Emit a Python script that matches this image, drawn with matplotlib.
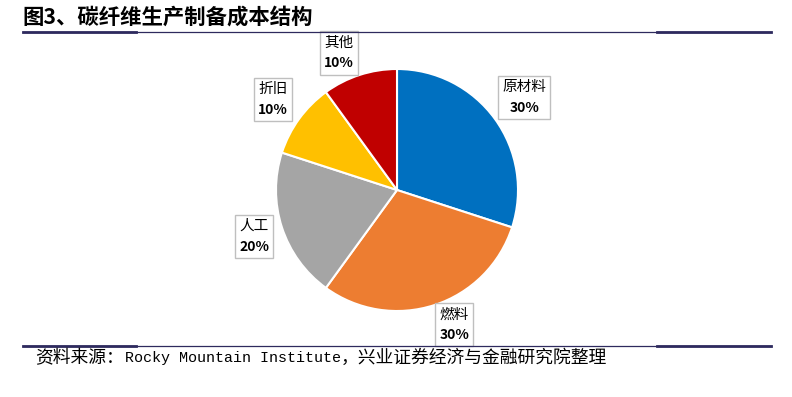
import numpy as np
import matplotlib
matplotlib.use("Agg")
from matplotlib import pyplot as plt
from matplotlib.offsetbox import TextArea, VPacker, AnnotationBbox

plt.rcParams['font.family'] = ['Noto Sans CJK SC', 'DejaVu Sans']

# data
categories = ['原材料', '燃料', '人工', '折旧', '其他']
shares = [30, 30, 20, 10, 10]
colors = ['#0070C0', '#ED7D31', '#A5A5A5', '#FFC000', '#C00000']
label_dist = [1.30, 1.21, 1.24, 1.27, 1.23]
label_shift = [0, 5, 0, 0, 5]   # degrees

W, H = 792, 397
fig = plt.figure(figsize=(W / 100, H / 100), dpi=100)

# pie axes: center (397,190) px, radius 121 px
cx, cy, r = 397, 190, 121
ax = fig.add_axes([(cx - r) / W, (H - cy - r) / H, 2 * r / W, 2 * r / H])
wedges, _ = ax.pie(shares, colors=colors, startangle=90, counterclock=False,
                   radius=1, wedgeprops=dict(edgecolor='white', linewidth=1.5))
ax.set_xlim(-1, 1)
ax.set_ylim(-1, 1)
ax.set_axis_off()

for w, name, val, d, s in zip(wedges, categories, shares, label_dist, label_shift):
    ang = np.deg2rad((w.theta1 + w.theta2) / 2 + s)
    x, y = d * np.cos(ang), d * np.sin(ang)
    t1 = TextArea(name, textprops=dict(fontsize=10.5, color='black'))
    t2 = TextArea(f'{val}%', textprops=dict(fontsize=10, fontweight='bold', color='black'))
    pack = VPacker(children=[t1, t2], align='center', pad=0, sep=5)
    ab = AnnotationBbox(pack, (x, y), xycoords='data', frameon=True, pad=0.5,
                        box_alignment=(0.5, 0.5), annotation_clip=False,
                        bboxprops=dict(boxstyle='square', facecolor='white',
                                       edgecolor='#BFBFBF', linewidth=1))
    ax.add_artist(ab)

# title
fig.text(22 / W, 1 - 17 / H, '图3、碳纤维生产制备成本结构', fontsize=15.4,
         fontweight='bold', ha='left', va='center')

# rule lines
line_c = '#2E2A5E'
for yy in (31.5, 346):
    fy = 1 - yy / H
    fig.add_artist(plt.Line2D([23 / W, 771 / W], [fy, fy], color=line_c, lw=0.9))
    fig.add_artist(plt.Line2D([23 / W, 136 / W], [fy, fy], color=line_c, lw=2))
    fig.add_artist(plt.Line2D([657 / W, 771 / W], [fy, fy], color=line_c, lw=2))

# source
src_y = 1 - 358 / H
fig.text(35 / W, src_y, '资料来源：', fontsize=12.8, ha='left', va='center')
fig.text(125 / W, src_y, 'Rocky Mountain Institute', fontsize=10.8,
         ha='left', va='center', family=['Liberation Mono'])
fig.text(341 / W, src_y, '，兴业证券经济与金融研究院整理', fontsize=12.8,
         ha='left', va='center')

fig.savefig('out.png', dpi=100)
